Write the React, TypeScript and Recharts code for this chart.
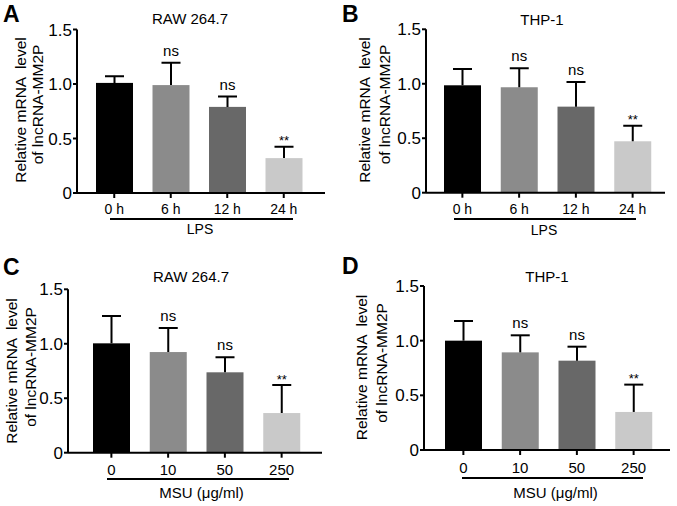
import React from 'react';
import { BarChart, Bar, XAxis, YAxis, Cell } from 'recharts';

const lpsCategories = ['0 h', '6 h', '12 h', '24 h'];
const msuCategories = ['0', '10', '50', '250'];
const significance = ['', 'ns', 'ns', '**'];
const barColors = ['#000000', '#8b8b8b', '#686868', '#c9c9c9'];
const yTicks = [0, 0.5, 1.0, 1.5];

const rawLpsMeans = [1.01, 0.99, 0.79, 0.32];
const rawLpsErrors = [0.06, 0.205, 0.095, 0.105];
const thpLpsMeans = [0.986, 0.968, 0.79, 0.472];
const thpLpsErrors = [0.15, 0.174, 0.227, 0.143];
const rawMsuMeans = [1.004, 0.924, 0.738, 0.364];
const rawMsuErrors = [0.251, 0.221, 0.138, 0.257];
const thpMsuMeans = [1.0, 0.893, 0.817, 0.348];
const thpMsuErrors = [0.18, 0.156, 0.128, 0.25];

const FONT = '"Liberation Sans", Arial, Helvetica, sans-serif';

const buildData = (cats: string[], means: number[], errs: number[]) =>
  cats.map((c, i) => ({ cat: c, mean: means[i], err: errs[i], sig: significance[i] }));

const BarWithError = (props: any) => {
  const { x, y, width, height, fill, payload, index } = props;
  if (!payload || !payload.mean) return null;
  const pxPerUnit = height / payload.mean;
  const errTop = y - payload.err * pxPerUnit;
  const cx = x + width / 2;
  const capHalf = 9.5;
  const sig = payload.sig;
  return (
    <g>
      <rect x={x} y={y} width={width} height={height} fill={fill || barColors[index]} />
      <line x1={cx} y1={y} x2={cx} y2={errTop} stroke="#000" strokeWidth={2} />
      <line x1={cx - capHalf} y1={errTop} x2={cx + capHalf} y2={errTop} stroke="#000" strokeWidth={2} />
      {sig === 'ns' && (
        <text x={cx} y={errTop - 7} textAnchor="middle" fontSize={15} fontFamily={FONT} fill="#000">
          ns
        </text>
      )}
      {sig === '**' && (
        <text x={cx} y={errTop - 1.5} textAnchor="middle" fontSize={13} fontFamily={FONT} fill="#000">
          **
        </text>
      )}
    </g>
  );
};

const panels = [
  {
    key: 'A', cats: lpsCategories, means: rawLpsMeans, errs: rawLpsErrors,
    left: 0, top: 0, width: 337, height: 250, yAxisWidth: 77,
    margin: { top: 29.5, right: 12, bottom: 32, left: 0 }, xPad: { left: 9, right: 13 },
    tickMargin: 6, tickFont: 14,
  },
  {
    key: 'B', cats: lpsCategories, means: thpLpsMeans, errs: thpLpsErrors,
    left: 337, top: 0, width: 340, height: 250, yAxisWidth: 89,
    margin: { top: 29.3, right: 12, bottom: 32.3, left: 0 }, xPad: { left: 8, right: 4 },
    tickMargin: 6, tickFont: 14,
  },
  {
    key: 'C', cats: msuCategories, means: rawMsuMeans, errs: rawMsuErrors,
    left: 0, top: 250, width: 337, height: 256, yAxisWidth: 68,
    margin: { top: 39.3, right: 15, bottom: 28.3, left: 0 }, xPad: { left: 15, right: 12 },
    tickMargin: 7, tickFont: 15,
  },
  {
    key: 'D', cats: msuCategories, means: thpMsuMeans, errs: thpMsuErrors,
    left: 337, top: 250, width: 340, height: 256, yAxisWidth: 87,
    margin: { top: 36, right: 7, bottom: 31, left: 0 }, xPad: { left: 11, right: 8 },
    tickMargin: 7, tickFont: 15,
  },
];

const letters = [
  { t: 'A', x: 3, y: 22 },
  { t: 'B', x: 342, y: 22 },
  { t: 'C', x: 3, y: 275 },
  { t: 'D', x: 342, y: 274 },
];
const titles = [
  { t: 'RAW 264.7', x: 190, y: 24 },
  { t: 'THP-1', x: 542, y: 25 },
  { t: 'RAW 264.7', x: 191, y: 282 },
  { t: 'THP-1', x: 547, y: 282 },
];
const yLabels = [
  { l1: [26, 110], l2: [43, 104.5] },
  { l1: [370, 110], l2: [390, 104.5] },
  { l1: [17, 371], l2: [36, 367] },
  { l1: [367, 367.5], l2: [387, 363] },
];
const underlines = [
  { y: 219, x1: 110, x2: 293 },
  { y: 219, x1: 454, x2: 636 },
  { y: 479, x1: 107, x2: 289 },
  { y: 478, x1: 462, x2: 643 },
];
const groupLabels = [
  { t: 'LPS', x: 200, y: 234, fs: 14 },
  { t: 'LPS', x: 544, y: 235, fs: 14 },
  { t: 'MSU (μg/ml)', x: 201.5, y: 498, fs: 15 },
  { t: 'MSU (μg/ml)', x: 555.5, y: 498, fs: 15 },
];

export default function App() {
  return (
    <div style={{ position: 'absolute', left: 0, top: 0, width: 677, height: 506, background: '#fff', overflow: 'hidden' }}>
      {panels.map((p) => (
        <div key={p.key} style={{ position: 'absolute', left: p.left, top: p.top }}>
          <BarChart
            width={p.width}
            height={p.height}
            data={buildData(p.cats, p.means, p.errs)}
            margin={p.margin}
            barSize={37}
          >
            <XAxis
              dataKey="cat"
              type="category"
              padding={p.xPad}
              height={25}
              axisLine={{ stroke: '#000', strokeWidth: 2 }}
              tickLine={{ stroke: '#000', strokeWidth: 2 }}
              tickSize={5}
              tickMargin={p.tickMargin}
              tick={{ fill: '#000', fontSize: p.tickFont, fontFamily: FONT }}
              interval={0}
            />
            <YAxis
              domain={[0, 1.5]}
              ticks={yTicks}
              width={p.yAxisWidth}
              allowDataOverflow
              axisLine={{ stroke: '#000', strokeWidth: 2 }}
              tickLine={{ stroke: '#000', strokeWidth: 2 }}
              tickSize={4}
              tickMargin={1}
              tickFormatter={(v: number) => (v === 0 ? '0' : v.toFixed(1))}
              tick={{ fill: '#000', fontSize: 17, fontFamily: FONT }}
            />
            <Bar dataKey="mean" isAnimationActive={false} shape={BarWithError}>
              {p.cats.map((c, i) => (
                <Cell key={c} fill={barColors[i]} />
              ))}
            </Bar>
          </BarChart>
        </div>
      ))}
      <svg
        width={677}
        height={506}
        style={{ position: 'absolute', left: 0, top: 0, pointerEvents: 'none' }}
      >
        {letters.map((l) => (
          <text key={l.t} x={l.x} y={l.y} fontSize={23} fontWeight="bold" fontFamily={FONT} fill="#000">
            {l.t}
          </text>
        ))}
        {titles.map((t, i) => (
          <text key={i} x={t.x} y={t.y} fontSize={15} textAnchor="middle" fontFamily={FONT} fill="#000">
            {t.t}
          </text>
        ))}
        {yLabels.map((yl, i) => (
          <g key={i}>
            <text
              x={yl.l1[0]}
              y={yl.l1[1]}
              transform={`rotate(-90 ${yl.l1[0]} ${yl.l1[1]})`}
              textAnchor="middle"
              fontSize={15.5}
              fontFamily={FONT}
              fill="#000"
              style={{ whiteSpace: 'pre' }}
            >
              {'Relative mRNA  level'}
            </text>
            <text
              x={yl.l2[0]}
              y={yl.l2[1]}
              transform={`rotate(-90 ${yl.l2[0]} ${yl.l2[1]})`}
              textAnchor="middle"
              fontSize={15.5}
              fontFamily={FONT}
              fill="#000"
            >
              of lncRNA-MM2P
            </text>
          </g>
        ))}
        {underlines.map((u, i) => (
          <line key={i} x1={u.x1} x2={u.x2} y1={u.y} y2={u.y} stroke="#000" strokeWidth={2} />
        ))}
        {groupLabels.map((g, i) => (
          <text key={i} x={g.x} y={g.y} fontSize={g.fs} textAnchor="middle" fontFamily={FONT} fill="#000">
            {g.t}
          </text>
        ))}
      </svg>
    </div>
  );
}
